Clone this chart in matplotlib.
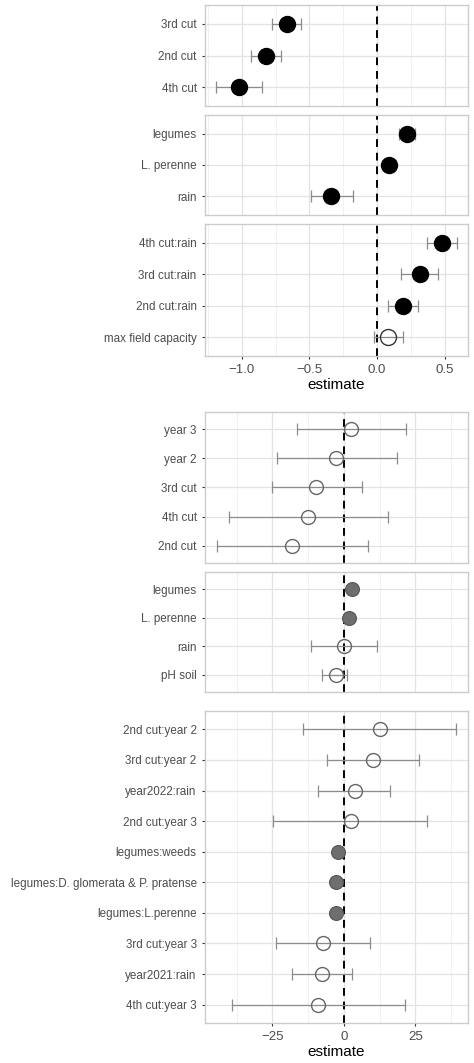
import matplotlib as mpl
mpl.use('Agg')
import numpy as np
import matplotlib.pyplot as plt

W, H = 474, 1063

## style: 'f' black filled, 'o' open, 'g' grey filled
top1_lab = ["3rd cut", "2nd cut", "4th cut"]
top1_est = [-0.67, -0.82, -1.02]
top1_lo = [-0.78, -0.93, -1.19]
top1_hi = [-0.56, -0.71, -0.85]
top1_sty = ["f", "f", "f"]

top2_lab = ["legumes", "L. perenne", "rain"]
top2_est = [0.22, 0.09, -0.34]
top2_lo = [0.16, 0.07, -0.49]
top2_hi = [0.28, 0.11, -0.18]
top2_sty = ["f", "f", "f"]

top3_lab = ["4th cut:rain", "3rd cut:rain", "2nd cut:rain", "max field capacity"]
top3_est = [0.48, 0.32, 0.19, 0.08]
top3_lo = [0.37, 0.18, 0.08, -0.02]
top3_hi = [0.59, 0.45, 0.30, 0.19]
top3_sty = ["f", "f", "f", "o"]

bot1_lab = ["year 3", "year 2", "3rd cut", "4th cut", "2nd cut"]
bot1_est = [2.4, -2.8, -9.8, -12.6, -18.2]
bot1_lo = [-16.4, -23.4, -25.2, -40.2, -44.4]
bot1_hi = [21.7, 18.5, 6.3, 15.4, 8.4]
bot1_sty = ["o", "o", "o", "o", "o"]

bot2_lab = ["legumes", "L. perenne", "rain", "pH soil"]
bot2_est = [2.8, 1.7, 0.0, -2.8]
bot2_lo = [1.8, 0.8, -11.5, -7.7]
bot2_hi = [3.8, 2.6, 11.5, 1.0]
bot2_sty = ["g", "g", "o", "o"]

bot3_lab = ["2nd cut:year 2", "3rd cut:year 2", "year2022:rain", "2nd cut:year 3",
            "legumes:weeds", "legumes:D. glomerata & P. pratense", "legumes:L.perenne",
            "3rd cut:year 3", "year2021:rain", "4th cut:year 3"]
bot3_est = [12.5, 10.2, 3.7, 2.3, -2.1, -2.9, -2.9, -7.3, -7.7, -8.9]
bot3_lo = [-14.2, -6.0, -8.9, -24.7, -3.1, -4.0, -4.0, -23.6, -18.0, -39.2]
bot3_hi = [39.2, 26.3, 16.2, 29.2, -1.1, -1.8, -1.8, 9.0, 2.7, 21.3]
bot3_sty = ["o", "o", "o", "o", "g", "g", "g", "o", "o", "o"]

TXT = '#4d4d4d'
plt.rcParams['font.family'] = ['Liberation Sans', 'DejaVu Sans']

fig = plt.figure(figsize=(W/100, H/100), dpi=100)

def fmt(v, step):
  s = ('%g' % abs(v)) if step >= 1 else ('%.1f' % abs(v))
  return ('\u2212' + s) if v < 0 else s

def panel(y0, y1, lab, est, lo, hi, sty, xlim, major, minor, ms, last):
  ax = fig.add_axes([205/W, 1-y1/H, (468-205)/W, (y1-y0)/H])
  n = len(lab)
  ys = np.arange(n)[::-1]
  ax.set_xlim(*xlim)
  ax.set_ylim(-0.6, n-0.4)
  for v in minor:
    ax.axvline(v, color='#ebebeb', lw=0.5, zorder=0)
  for v in major:
    ax.axvline(v, color='#e3e3e3', lw=0.9, zorder=0)
  for y in ys:
    ax.axhline(y, color='#e3e3e3', lw=0.9, zorder=0)
  ax.axvline(0, color='black', lw=1.4, ls=(0, (4, 3)), zorder=2)
  for y, e, l, h, s in zip(ys, est, lo, hi, sty):
    ax.errorbar([e], [y], xerr=[[e-l], [h-e]], fmt='none', ecolor='#8c8c8c', elinewidth=0.9, capsize=4, capthick=0.9, zorder=3)
    if s == 'f':
      ax.plot(e, y, 'o', ms=ms, mfc='black', mec='black', zorder=4)
    elif s == 'g':
      ax.plot(e, y, 'o', ms=ms, mfc='#6e6e6e', mec='#555555', mew=0.8, zorder=4)
    else:
      ax.plot(e, y, 'o', ms=ms, mfc='none', mec='#333333' if ms > 11 else '#666666', mew=1.0, zorder=4)
  ax.set_yticks(ys)
  ax.set_yticklabels(lab, fontsize=8.4, color=TXT)
  ax.set_xticks(major)
  ax.tick_params(axis='both', length=2.5, color='#333333')
  ax.tick_params(axis='x', labelsize=9.5, labelcolor=TXT)
  if not last:
    ax.tick_params(axis='x', labelbottom=False, length=0)
  else:
    step = abs(major[1] - major[0])
    ax.set_xticklabels([fmt(v, step) for v in major])
    ax.set_xlabel('estimate', fontsize=11, color='black', labelpad=1)
  for sp in ax.spines.values():
    sp.set_color('#cccccc')
    sp.set_linewidth(1.0)
  return ax

tl = (-1.274, 0.674)
tmaj = [-1.0, -0.5, 0.0, 0.5]
tmin = [-1.25, -0.75, -0.25, 0.25]
panel(5, 106, top1_lab, top1_est, top1_lo, top1_hi, top1_sty, tl, tmaj, tmin, 11.5, False)
panel(115, 215, top2_lab, top2_est, top2_lo, top2_hi, top2_sty, tl, tmaj, tmin, 11.5, False)
panel(224, 356, top3_lab, top3_est, top3_lo, top3_hi, top3_sty, tl, tmaj, tmin, 11.5, True)

bl = (-48.6, 43.4)
bmaj = [-25, 0, 25]
bmin = [-37.5, -12.5, 12.5, 37.5]
panel(412, 563, bot1_lab, bot1_est, bot1_lo, bot1_hi, bot1_sty, bl, bmaj, bmin, 10, False)
panel(572, 692, bot2_lab, bot2_est, bot2_lo, bot2_hi, bot2_sty, bl, bmaj, bmin, 10, False)
panel(711, 1023, bot3_lab, bot3_est, bot3_lo, bot3_hi, bot3_sty, bl, bmaj, bmin, 10, True)

fig.savefig('out.png', dpi=100)
